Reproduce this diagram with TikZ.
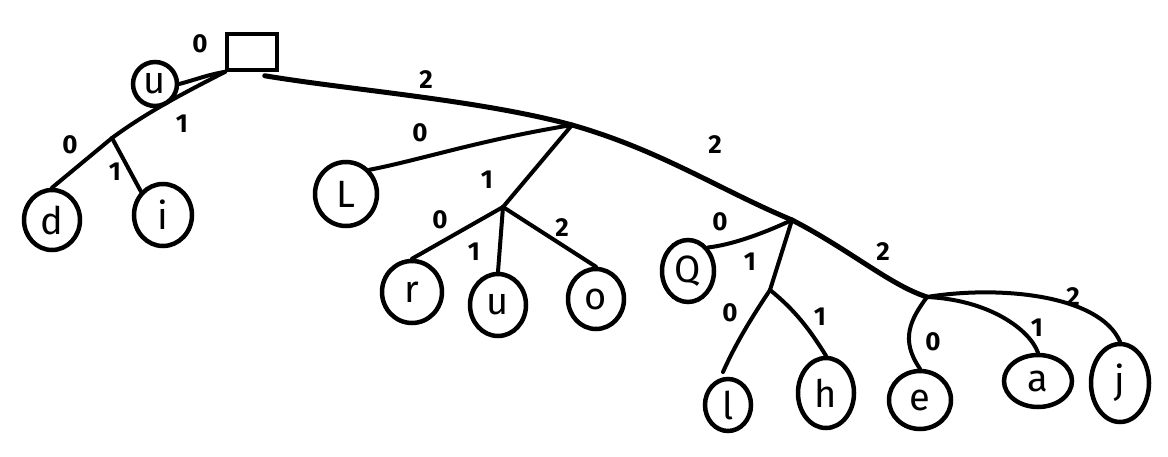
\documentclass[tikz,border=0pt]{standalone}
\usepackage{fontspec}
\setmainfont{Fira Sans}
\usetikzlibrary{shapes.geometric,calc}
\begin{document}
\begin{tikzpicture}[x=1pt,y=-1pt,
  leaf/.style={draw,ellipse,line width=4.5pt,inner sep=0pt,font=\fontsize{38}{40}\selectfont},
  rootbox/.style={draw,rectangle,line width=3.5pt,minimum width=50pt,minimum height=36pt,inner sep=0pt},
  trunk/.style={line width=5pt,line cap=round},
  branch/.style={line width=4pt,line cap=round},
  lab/.style={font=\fontsize{26}{28}\selectfont\bfseries,inner sep=0pt}]
\useasboundingbox (0,0) rectangle (1168,457);
% nodes
\node[rootbox] (root) at (252,52) {};
\node[leaf,minimum width=44pt,minimum height=44pt] (u1) at (155,84) {u};
\coordinate (A) at (112,138);
\node[leaf,minimum width=56pt,minimum height=60pt] (d) at (52,220) {d};
\node[leaf,minimum width=58pt,minimum height=62pt] (i) at (163,215) {i};
\coordinate (B) at (572,125);
\node[leaf,minimum width=62pt,minimum height=64pt] (L) at (346,194) {L};
\coordinate (C) at (503,207);
\node[leaf,minimum width=60pt,minimum height=62pt] (r) at (412,292) {r};
\node[leaf,minimum width=56pt,minimum height=62pt] (u2) at (498,305) {u};
\node[leaf,minimum width=56pt,minimum height=60pt] (o) at (596,299) {o};
\coordinate (D) at (792,220);
\node[leaf,minimum width=52pt,minimum height=62pt] (Q) at (688,271) {Q};
\coordinate (E) at (770,290);
\node[leaf,minimum width=46pt,minimum height=52pt] (l) at (728,405) {l};
\node[leaf,minimum width=56pt,minimum height=70pt] (h) at (826,393) {h};
\coordinate (F) at (927,297);
\node[leaf,minimum width=62pt,minimum height=58pt] (e) at (920,400) {e};
\node[leaf,minimum width=68pt,minimum height=52pt] (a) at (1038,381) {a};
\node[leaf,minimum width=58pt,minimum height=78pt] (j) at (1120,383) {j};
\coordinate (lend) at (723,372);
% edges
\draw[branch] (root.south west) to[out=190,in=15] (u1.east);
\draw[branch] (root.south west) .. controls (190,90) and (150,110) .. (A);
\draw[branch] (A) -- (d.north);
\draw[branch] (A) -- (i.north west);
\draw[trunk] ($(root.south east)+(-14,4)$) .. controls (350,90) and (480,100) .. (B);
\draw[branch] (B) .. controls (480,140) and (420,160) .. (L.north east);
\draw[branch] (B) -- (C);
\draw[branch] (C) -- (r.north);
\draw[branch] (C) -- (u2.north);
\draw[branch] (C) -- (o.north);
\draw[trunk] (B) .. controls (660,150) and (720,190) .. (D);
\draw[branch] (D) .. controls (760,235) and (730,245) .. (Q.north east);
\draw[branch] (D) -- (E);
\draw[branch] (E) .. controls (750,320) and (735,345) .. (lend);
\draw[branch] (E) .. controls (795,310) and (810,330) .. (h.north);
\draw[trunk] (D) .. controls (850,250) and (890,285) .. (F);
\draw[branch] (F) .. controls (910,320) and (900,340) .. (e.north);
\draw[branch] (F) .. controls (990,300) and (1030,330) .. (a.north);
\draw[branch] (F) .. controls (1000,285) and (1100,295) .. (j.north);
% labels
\node[lab] (l1) at (200,44) {0};
\node[lab] (l2) at (182,124) {1};
\node[lab] (l3) at (70,145) {0};
\node[lab] (l4) at (115,172) {1};
\node[lab] (l5) at (426,80) {2};
\node[lab] (l6) at (420,133) {0};
\node[lab] (l7) at (487,180) {1};
\node[lab] (l8) at (440,220) {0};
\node[lab] (l9) at (474,252) {1};
\node[lab] (l10) at (562,228) {2};
\node[lab] (l11) at (715,145) {2};
\node[lab] (l12) at (720,222) {0};
\node[lab] (l13) at (750,262) {1};
\node[lab] (l14) at (730,313) {0};
\node[lab] (l15) at (820,317) {1};
\node[lab] (l16) at (883,252) {2};
\node[lab] (l17) at (933,342) {0};
\node[lab] (l18) at (1037,328) {1};
\node[lab] (l19) at (1073,297) {2};
\end{tikzpicture}
\end{document}
